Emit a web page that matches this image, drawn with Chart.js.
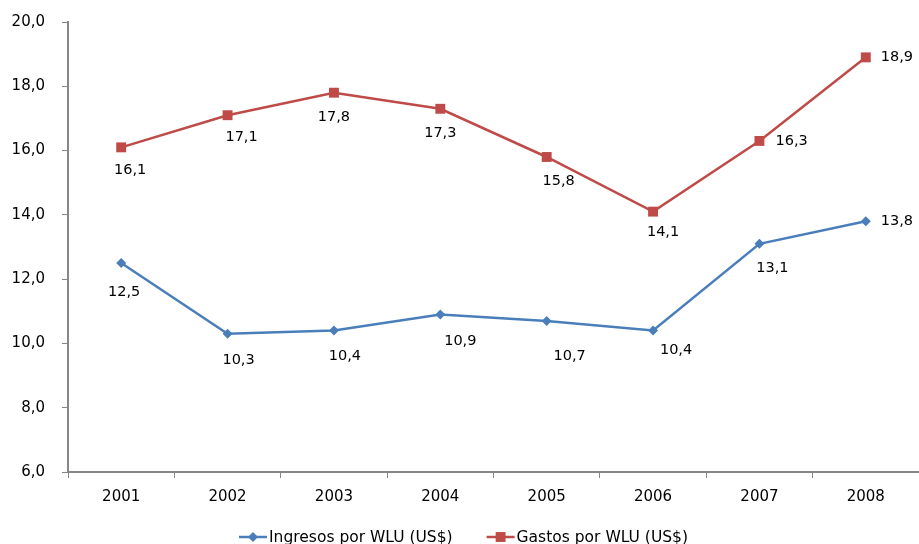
<!DOCTYPE html>
<html>
<head>
<meta charset="utf-8">
<script src="https://cdn.jsdelivr.net/npm/chart.js@4.4.0/dist/chart.umd.min.js"></script>
<style>
  html, body { margin: 0; padding: 0; background: #ffffff; }
  canvas { display: block; }
</style>
</head>
<body>
<canvas id="chart" width="919" height="544"></canvas>
<script>
// Years on the category axis
const years = ['2001', '2002', '2003', '2004', '2005', '2006', '2007', '2008'];

// Income and spending per WLU, US$
const ingresos = [12.5, 10.3, 10.4, 10.9, 10.7, 10.4, 13.1, 13.8];
const gastos = [16.1, 17.1, 17.8, 17.3, 15.8, 14.1, 16.3, 18.9];

// Value axis range and step
const yMin = 6;
const yMax = 20;
const yStep = 2;

const seriesNames = ['Ingresos por WLU (US$)', 'Gastos por WLU (US$)'];

// Where each value label sits relative to its point: [dx, dy, textAlign]
const ingresosLabelPlace = [[3, 29, 'center'], [11, 26, 'center'], [11, 26, 'center'], [20, 27, 'center'],
                            [23, 35, 'center'], [23, 20, 'center'], [13, 24, 'center'], [15, 0, 'left']];
const gastosLabelPlace = [[9, 23, 'center'], [14, 22, 'center'], [0, 25, 'center'], [0, 24, 'center'],
                          [12, 24, 'center'], [10, 21, 'center'], [16, 0, 'left'], [15, 0, 'left']];

const BLUE = '#4A7EBB';
const RED = '#BE4B48';
const AXIS = '#868686';
const FONT = '"DejaVu Sans", Verdana, sans-serif';

const fmt = v => Number(v).toFixed(1).replace('.', ',');

// Draws the value next to every point
const valueLabels = {
  id: 'valueLabels',
  afterDatasetsDraw(chart) {
    const ctx = chart.ctx;
    ctx.save();
    ctx.font = '14.5px ' + FONT;
    ctx.fillStyle = '#000000';
    ctx.textBaseline = 'middle';
    chart.data.datasets.forEach((ds, di) => {
      const meta = chart.getDatasetMeta(di);
      const place = ds.labelPlace;
      meta.data.forEach((pt, i) => {
        const p = place[i];
        ctx.textAlign = p[2];
        ctx.fillText(fmt(ds.data[i]), pt.x + p[0], pt.y + p[1]);
      });
    });
    ctx.restore();
  }
};

// Legend drawn as line + marker + text, centred under the axis
const lineLegend = {
  id: 'lineLegend',
  afterDraw(chart) {
    const ctx = chart.ctx;
    ctx.save();
    ctx.font = '15.5px ' + FONT;
    ctx.textBaseline = 'middle';
    ctx.textAlign = 'left';
    const sample = 28, gap = 2, between = 34;
    const items = chart.data.datasets.map(ds => ({
      ds, w: sample + gap + ctx.measureText(ds.label).width
    }));
    const total = items.reduce((s, it) => s + it.w, 0) + between * (items.length - 1);
    let x = chart.width / 2 - total / 2 + 4;
    const y = chart.chartArea.bottom + 65;
    items.forEach(it => {
      const ds = it.ds;
      ctx.strokeStyle = ds.borderColor;
      ctx.lineWidth = 2.5;
      ctx.beginPath();
      ctx.moveTo(x, y);
      ctx.lineTo(x + sample, y);
      ctx.stroke();
      ctx.fillStyle = ds.pointBackgroundColor;
      ctx.beginPath();
      const r = ds.pointRadius;
      const cx = x + sample / 2;
      if (ds.pointStyle === 'rect') {
        const s = r * Math.SQRT1_2;
        ctx.rect(cx - s, y - s, 2 * s, 2 * s);
      } else {
        ctx.moveTo(cx - r, y); ctx.lineTo(cx, y - r); ctx.lineTo(cx + r, y); ctx.lineTo(cx, y + r);
        ctx.closePath();
      }
      ctx.fill();
      ctx.fillStyle = '#000000';
      ctx.fillText(ds.label, x + sample + gap, y + 1);
      x += it.w + between;
    });
    ctx.restore();
  }
};

new Chart(document.getElementById('chart'), {
  type: 'line',
  data: {
    labels: years,
    datasets: [
      {
        label: seriesNames[0],
        data: ingresos,
        labelPlace: ingresosLabelPlace,
        borderColor: BLUE,
        backgroundColor: BLUE,
        pointBackgroundColor: BLUE,
        pointBorderColor: BLUE,
        borderWidth: 2.5,
        pointStyle: 'rectRot',
        pointRadius: 5,
        pointBorderWidth: 0,
        tension: 0
      },
      {
        label: seriesNames[1],
        data: gastos,
        labelPlace: gastosLabelPlace,
        borderColor: RED,
        backgroundColor: RED,
        pointBackgroundColor: RED,
        pointBorderColor: RED,
        borderWidth: 2.5,
        pointStyle: 'rect',
        pointRadius: 7,
        pointBorderWidth: 0,
        tension: 0
      }
    ]
  },
  options: {
    responsive: false,
    animation: false,
    layout: { autoPadding: false, padding: { top: 22, right: 0, bottom: 0, left: 0 } },
    plugins: {
      legend: { display: false },
      tooltip: { enabled: false },
      title: { display: false }
    },
    scales: {
      x: {
        offset: true,
        grid: {
          offset: true,
          drawOnChartArea: false,
          drawTicks: true,
          tickLength: 6,
          color: AXIS,
          lineWidth: 1
        },
        border: { display: true, color: AXIS, width: 2 },
        ticks: {
          color: '#000000',
          font: { family: FONT, size: 15 },
          padding: 10,
          maxRotation: 0
        },
        afterFit(scale) {
          scale.height = 72;
          scale.paddingLeft = 0;
          scale.paddingRight = 0;
        }
      },
      y: {
        min: yMin,
        max: yMax,
        grid: {
          drawOnChartArea: false,
          drawTicks: true,
          tickLength: 6,
          color: AXIS,
          lineWidth: 1
        },
        border: { display: true, color: AXIS, width: 2 },
        ticks: {
          stepSize: yStep,
          color: '#000000',
          font: { family: FONT, size: 15 },
          padding: 17,
          callback: v => fmt(v)
        },
        afterFit(scale) {
          scale.width = 68;
          scale.paddingTop = 0;
          scale.paddingBottom = 0;
        }
      }
    }
  },
  plugins: [valueLabels, lineLegend]
});
</script>
</body>
</html>
